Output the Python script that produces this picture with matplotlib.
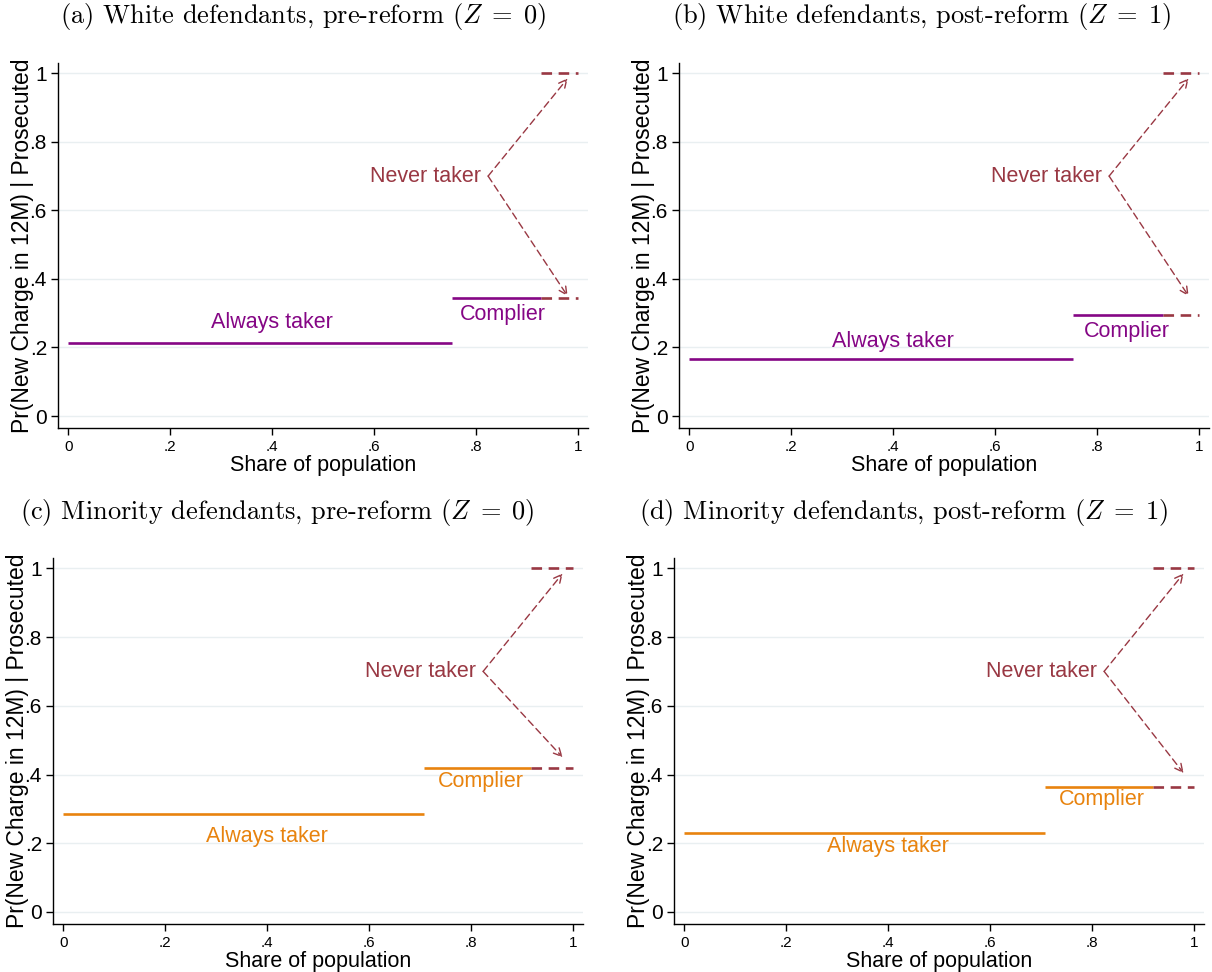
import matplotlib
matplotlib.use("Agg")
import matplotlib.pyplot as plt

# ---- data ----
panel_titles = [
    r"(a) White defendants, pre-reform ($Z\;=\;0$)",
    r"(b) White defendants, post-reform ($Z\;=\;1$)",
    r"(c) Minority defendants, pre-reform ($Z\;=\;0$)",
    r"(d) Minority defendants, post-reform ($Z\;=\;1$)",
]
always_share = [0.753, 0.753, 0.708, 0.708]      # end of always-taker segment
complier_share = [0.928, 0.929, 0.918, 0.920]   # end of complier segment
always_rate = [0.213, 0.166, 0.285, 0.230]
complier_rate = [0.344, 0.294, 0.420, 0.363]
never_rate = [1.0, 1.0, 1.0, 1.0]
arrow_low_end = [0.350, 0.350, 0.450, 0.404]    # lower arrow tip
series_colors = ["#850685", "#850685", "#E8830E", "#E8830E"]
never_color = "#993843"

yticks = [0, 0.2, 0.4, 0.6, 0.8, 1.0]
ytick_labels = ["0", ".2", ".4", ".6", ".8", "1"]
xticks = [0, 0.2, 0.4, 0.6, 0.8, 1.0]
xtick_labels = ["0", ".2", ".4", ".6", ".8", "1"]

# label placements (x, y) in data units
always_label_pos = [(0.40, 0.274), (0.40, 0.216), (0.40, 0.220), (0.40, 0.190)]
complier_label_pos = [(0.853, 0.297), (0.858, 0.248), (0.820, 0.380), (0.820, 0.326)]
never_origin = (0.824, 0.70)

W, H = 1212, 972
fig = plt.figure(figsize=(W / 100, H / 100), dpi=100)
plt.rcParams["font.family"] = ["Liberation Sans", "DejaVu Sans"]
plt.rcParams["mathtext.fontset"] = "cm"

# axes boxes in pixels: left, top, bottom (width 530)
boxes = [(58, 63, 428), (679, 63, 428), (53, 558, 924), (674, 558, 924)]
title_pos = [(303, 17), (922, 17), (277, 512), (904, 512)]

for i in range(4):
    l, t, b = boxes[i]
    ax = fig.add_axes([l / W, 1 - b / H, 530 / W, (b - t) / H])
    c = series_colors[i]

    ax.set_xlim(-0.02, 1.02)
    ax.set_ylim(-0.035, 1.03)
    for y in yticks:
        ax.axhline(y, color="#E9EFF1", lw=1.0, zorder=0)

    # always takers
    ax.plot([0, always_share[i]], [always_rate[i], always_rate[i]], color=c, lw=1.9,
            solid_capstyle="butt")
    # compliers
    ax.plot([always_share[i], complier_share[i]], [complier_rate[i], complier_rate[i]],
            color=c, lw=1.9, solid_capstyle="butt")
    ax.plot([complier_share[i], 1.0], [complier_rate[i], complier_rate[i]],
            color=never_color, lw=1.9, ls=(0, (4, 2.5)))
    # never takers
    ax.plot([complier_share[i], 1.0], [never_rate[i], never_rate[i]],
            color=never_color, lw=1.9, ls=(0, (4, 2.5)))

    for tip in [(0.98, 0.985), (0.98, arrow_low_end[i])]:
        ax.annotate("", xy=tip, xytext=never_origin,
                    arrowprops=dict(arrowstyle="->", color=never_color, lw=1.0,
                                    ls=(0, (5, 3)), shrinkA=0, shrinkB=0,
                                    mutation_scale=14))

    ax.text(never_origin[0] - 0.013, never_origin[1], "Never taker", color=never_color,
            fontsize=15.5, ha="right", va="center")
    ax.text(*always_label_pos[i], "Always taker", color=c, fontsize=15.5,
            ha="center", va="center")
    ax.text(*complier_label_pos[i], "Complier", color=c, fontsize=15.5,
            ha="center", va="center")

    ax.set_xticks(xticks)
    ax.set_xticklabels(xtick_labels, fontsize=11)
    ax.set_yticks(yticks)
    ax.set_yticklabels(ytick_labels, fontsize=15)
    ax.tick_params(axis="both", direction="out", length=5, width=1, color="black")
    ax.tick_params(axis="y", pad=3)
    ax.set_xlabel("Share of population", fontsize=15.5, labelpad=1)
    ax.set_ylabel("Pr(New Charge in 12M) | Prosecuted", fontsize=16.5, labelpad=-3)
    for side in ["top", "right"]:
        ax.spines[side].set_visible(False)
    for side in ["left", "bottom"]:
        ax.spines[side].set_linewidth(1.0)

    tx, ty = title_pos[i]
    fig.text(tx / W, 1 - ty / H, panel_titles[i], fontsize=19, family="cmr10",
             ha="center", va="center")

fig.savefig("out.png", dpi=100, facecolor="white")
